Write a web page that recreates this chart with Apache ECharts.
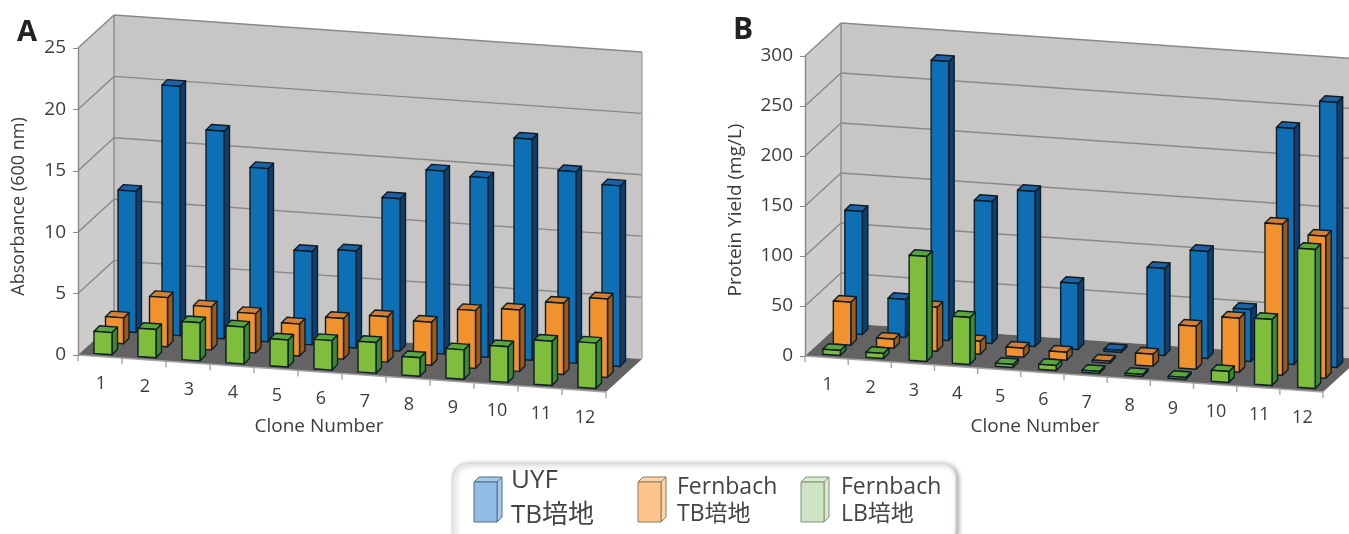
<!DOCTYPE html>
<html><head><meta charset="utf-8">
<style>html,body{margin:0;padding:0;background:#fff}#c{width:1349px;height:534px}</style>
<script src="https://cdn.jsdelivr.net/npm/echarts@6/dist/echarts.min.js"></script>
</head><body><div id="c"></div>
<script>
const categories = ['1','2','3','4','5','6','7','8','9','10','11','12'];
const absorbanceUYF = [11.5,20.3,16.9,14.1,7.6,7.9,12.4,14.9,14.6,18.0,15.6,14.7];
const absorbanceFernbachTB = [2.1,4.0,3.5,3.2,2.6,3.3,3.7,3.5,4.7,5.0,5.8,6.4];
const absorbanceFernbachLB = [1.8,2.3,3.1,3.0,2.2,2.4,2.5,1.5,2.4,2.9,3.6,3.7];
const yieldUYF = [123,38,279,142,155,66,2,87,107,52,236,265];
const yieldFernbachTB = [43,9,44,13,9,8,2,12,43,54,151,142];
const yieldFernbachLB = [5,5,105,47,3,5,2,2,2,11,66,139];
const legendLabels = [['UYF','TB培地'],['Fernbach','TB培地'],['Fernbach','LB培地']];

const FONT = '"Open Sans","Noto Sans CJK JP",sans-serif';
const TEXT = '#3d3d3d';
const palette = {
  blue:{front:'#0e6fb5',side:'#0c3f70',top:'#1b62a6'},
  orange:{front:'#f0932f',side:'#9c5a1f',top:'#d67f2e'},
  green:{front:'#7fbd3d',side:'#3c8a2e',top:'#5aa63a'}
};
const panels = [
 {left:78,top:48,width:528,height:307,max:25,interval:5,slope:0.07,dx:36,dy:-33,barW:18,side:5.5,
  name:'Absorbance (600 nm)',nameSize:18,nameGap:50,namePad:10,xPad:46,xGap:62,
  rows:[{d:absorbanceUYF,c:palette.blue,ox:27,oy:-26.5},{d:absorbanceFernbachTB,c:palette.orange,ox:14.5,oy:-14.5},{d:absorbanceFernbachLB,c:palette.green,ox:3,oy:-2.7}]},
 {left:805,top:56,width:518,height:300,max:300,interval:50,slope:0.0695,dx:36,dy:-33,barW:17.5,side:5.5,
  name:'Protein Yield (mg/L)',nameSize:19,nameGap:60,namePad:8,xPad:58,xGap:61,
  rows:[{d:yieldUYF,c:palette.blue,ox:27,oy:-25.5},{d:yieldFernbachTB,c:palette.orange,ox:15.5,oy:-14},{d:yieldFernbachLB,c:palette.green,ox:5,oy:-3}]}
];

function frameItem(cfg){
  return function(params, api){
    const band = api.size([1,0])[0];
    const o = api.coord([0,0]);
    const x0 = o[0]-band/2, y0 = o[1], x1 = x0+band*categories.length;
    const S = (x,y)=>[x, y+(x-x0)*cfg.slope];
    const yT = api.coord([0,cfg.max])[1];
    const D = (p)=>[p[0]+cfg.dx, p[1]+cfg.dy];
    const line = '#8a8887';
    const kids = [];
    const poly = (pts,fill,stroke)=>kids.push({type:'polygon',shape:{points:pts},style:{fill:fill,stroke:stroke||null,lineWidth:1}});
    const seg = (a,b,c,w)=>kids.push({type:'polyline',shape:{points:[a,b]},style:{stroke:c||line,lineWidth:w||1.4,fill:null}});
    poly([D(S(x0,yT)),D(S(x1,yT)),D(S(x1,y0)),D(S(x0,y0))],'#c8c6c4');
    poly([[x0,yT],D([x0,yT]),D([x0,y0]),[x0,y0]],'#cfcdcb');
    for(let v=cfg.interval;v<=cfg.max;v+=cfg.interval){
      const y = api.coord([0,v])[1];
      seg([x0,y],D([x0,y]));
      seg(D(S(x0,y)),D(S(x1,y)));
    }
    poly([S(x0,y0),S(x1,y0),D(S(x1,y0)),D(S(x0,y0))],'#636363');
    seg(D(S(x0,yT)),D(S(x0,y0)));
    seg(D(S(x1,yT)),D(S(x1,y0)),'#a8a6a5');
    seg(S(x0,y0),S(x1,y0),'#a5a5a5');
    categories.forEach((c,i)=>{
      const cx = api.coord([i,0])[0];
      const p = S(cx,y0);
      kids.push({type:'text',style:{text:c,x:cx+1,y:p[1]+27,align:'center',verticalAlign:'middle',fill:TEXT,font:'18px '+FONT}});
    });
    for(let i=0;i<=categories.length;i++){
      const p = S(x0+i*band,y0);
      seg(p,[p[0],p[1]+6],'#a5a5a5');
    }
    return {type:'group',children:kids};
  };
}
function barItem(cfg,row){
  return function(params, api){
    const i = api.value(0), v = api.value(1);
    const band = api.size([1,0])[0];
    const c = api.coord([i,0]), t = api.coord([i,v]);
    const x0 = api.coord([0,0])[0]-band/2;
    const S = (x,y)=>[x, y+(x-x0)*cfg.slope+row.oy];
    const l = c[0]+row.ox-cfg.barW/2, r = l+cfg.barW, s = cfg.side;
    const a=S(l,t[1]), b=S(r,t[1]), e=S(r,c[1]), f=S(l,c[1]);
    const up = (p)=>[p[0]+s,p[1]-s];
    const stroke='#0f1d26';
    const st=(fill)=>({fill:fill,stroke:stroke,lineWidth:1.4,lineJoin:'round'});
    return {type:'group',children:[
      {type:'polygon',shape:{points:[b,up(b),up(e),e]},style:st(row.c.side)},
      {type:'polygon',shape:{points:[a,b,up(b),up(a)]},style:st(row.c.top)},
      {type:'polygon',shape:{points:[a,b,e,f]},style:st(row.c.front)}
    ]};
  };
}
const grid=[],xAxis=[],yAxis=[],series=[];
panels.forEach((p,idx)=>{
  grid.push({left:p.left,top:p.top,width:p.width,height:p.height,containLabel:false,outerBoundsMode:'none'});
  xAxis.push({type:'category',gridIndex:idx,data:categories,axisLine:{show:false},axisTick:{show:false},axisLabel:{show:false},splitLine:{show:false},
    name:'Clone Number',nameLocation:'middle',nameGap:p.xGap,nameTextStyle:{color:TEXT,fontSize:19,fontFamily:FONT,padding:[0,p.xPad,0,0]}});
  yAxis.push({type:'value',gridIndex:idx,min:0,max:p.max,interval:p.interval,
    axisLine:{show:true,lineStyle:{color:'#8a8887',width:1.4}},axisTick:{show:true,length:5,lineStyle:{color:'#8a8887'}},
    axisLabel:{color:TEXT,fontSize:19,fontFamily:FONT,margin:12},splitLine:{show:false},
    name:p.name,nameLocation:'middle',nameGap:p.nameGap,nameTextStyle:{color:TEXT,fontSize:p.nameSize,fontFamily:FONT,padding:[0,p.namePad,0,0]}});
  series.push({type:'custom',name:'frame'+idx,xAxisIndex:idx,yAxisIndex:idx,z:-1,silent:true,animation:false,clip:false,renderItem:frameItem(p),data:[[0,0]],encode:{x:0,y:1}});
  p.rows.forEach((r,k)=>{
    series.push({type:'custom',name:legendLabels[k].join(' '),xAxisIndex:idx,yAxisIndex:idx,z:3+k,silent:true,animation:false,clip:false,
      renderItem:barItem(p,r),data:r.d.map((v,i)=>[i,v]),encode:{x:0,y:1}});
  });
});
const legendKeys=[{x:474,f:'#94bde6',s:'#a9c8e8',t:'#a9c8e8',e:'#4f6f8a',tx:511,sizes:[26,26],ys:[481,516]},
                  {x:638,f:'#fdc58c',s:'#fdd3a8',t:'#fdd3a8',e:'#8a7a60',tx:677,sizes:[23,23],ys:[487,514]},
                  {x:801,f:'#cfe3c5',s:'#dbeacf',t:'#dbeacf',e:'#7d9377',tx:841,sizes:[23,23],ys:[487,514]}];
const graphic=[{type:'rect',left:452,top:463,shape:{width:503,height:80,r:14},style:{fill:'#fff',stroke:'#dcdcdc',lineWidth:1.5,shadowBlur:5,shadowColor:'rgba(0,0,0,0.35)',shadowOffsetX:2,shadowOffsetY:1}}];
legendKeys.forEach((k,i)=>{
  const w=23,h=44,d=5,y=478+d-1;
  graphic.push({type:'polygon',shape:{points:[[k.x+w,y],[k.x+w+d,y-d],[k.x+w+d,y+h-d-4],[k.x+w,y+h-4]]},style:{fill:k.s,stroke:k.e,lineWidth:1}});
  graphic.push({type:'polygon',shape:{points:[[k.x,y],[k.x+d,y-d],[k.x+w+d,y-d],[k.x+w,y]]},style:{fill:k.t,stroke:k.e,lineWidth:1}});
  graphic.push({type:'rect',shape:{x:k.x,y:y,width:w,height:h-4},style:{fill:k.f,stroke:k.e,lineWidth:1}});
  legendLabels[i].forEach((t,j)=>graphic.push({type:'text',style:{text:t,x:k.tx,y:k.ys[j],verticalAlign:'middle',fill:'#444',font:k.sizes[j]+'px '+FONT}}));
});
graphic.push({type:'text',style:{text:'A',x:17,y:33,verticalAlign:'middle',fill:'#222',font:'bold 29px "Open Sans",sans-serif'}});
graphic.push({type:'text',style:{text:'B',x:733,y:30,verticalAlign:'middle',fill:'#222',font:'bold 30px "Open Sans",sans-serif'}});
const chart=echarts.init(document.getElementById('c'),null,{renderer:'canvas',width:1349,height:534});
chart.setOption({animation:false,backgroundColor:'#fff',grid,xAxis,yAxis,series,graphic});
</script></body></html>
